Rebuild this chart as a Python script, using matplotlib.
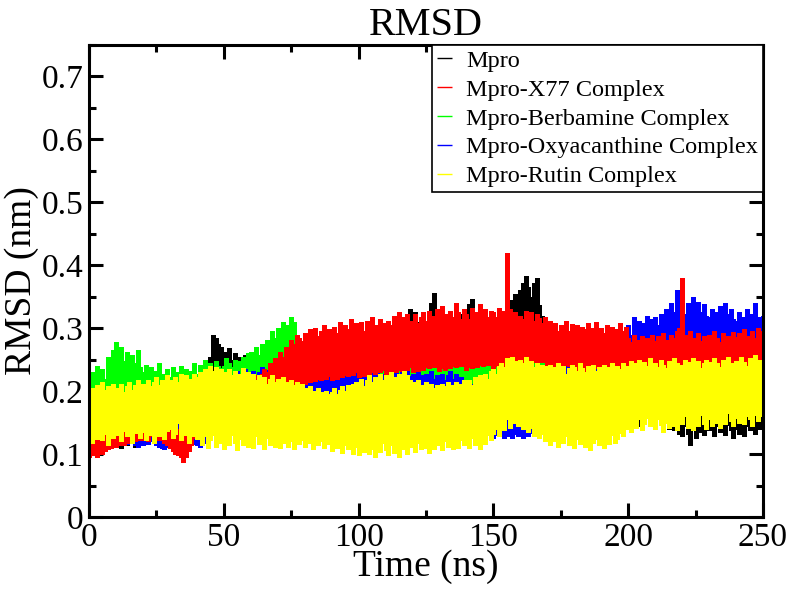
import numpy as np
import matplotlib
matplotlib.use("Agg")
import matplotlib.pyplot as plt
from matplotlib.ticker import MultipleLocator

plt.rcParams['font.family'] = ['Liberation Serif', 'DejaVu Serif']

# RMSD, in thousandths of nm.
# For every ns (0..250): lowest and highest value of the trace in that ns.
time_ns = np.arange(0, 251)

mpro_lo = [
    100, 105, 98, 110, 104, 112, 108, 115, 110, 118,
    112, 118, 110, 122, 115, 125, 118, 112, 120, 126,
    120, 128, 118, 125, 130, 122, 128, 135, 125, 130,
    128, 135, 125, 132, 138, 130, 136, 128, 135, 140,
    135, 140, 138, 145, 150, 175, 205, 215, 210, 205,
    200, 205, 195, 200, 192, 198, 190, 195, 188, 192,
    188, 192, 185, 190, 195, 188, 192, 198, 190, 195,
    192, 198, 195, 200, 198, 205, 200, 208, 205, 210,
    208, 212, 210, 215, 212, 218, 215, 220, 218, 222,
    220, 224, 218, 226, 222, 228, 225, 230, 226, 232,
    228, 232, 230, 235, 232, 238, 234, 236, 238, 240,
    236, 240, 238, 242, 240, 244, 242, 246, 244, 248,
    242, 246, 244, 248, 246, 250, 248, 255, 252, 250,
    246, 250, 248, 252, 250, 254, 252, 256, 254, 258,
    250, 254, 252, 256, 254, 258, 256, 260, 258, 262,
    255, 258, 256, 260, 258, 262, 264, 268, 270, 275,
    278, 282, 285, 280, 275, 270, 265, 260, 250, 240,
    230, 225, 222, 218, 215, 212, 210, 208, 205, 202,
    200, 198, 196, 194, 192, 190, 188, 186, 184, 182,
    180, 178, 176, 175, 174, 172, 170, 168, 166, 165,
    165, 150, 172, 158, 145, 162, 150, 168, 148, 160,
    142, 158, 148, 135, 152, 140, 156, 138, 150, 132,
    128, 145, 132, 115, 140, 125, 148, 135, 130, 142,
    138, 150, 128, 145, 135, 152, 130, 146, 138, 125,
    140, 132, 150, 128, 145, 138, 155, 132, 148, 140,
    145,
]
mpro_hi = [
    130, 138, 125, 142, 135, 128, 145, 138, 132, 150,
    148, 140, 155, 145, 150, 160, 142, 152, 158, 148,
    155, 162, 150, 168, 158, 165, 152, 170, 160, 165,
    165, 172, 160, 175, 168, 162, 178, 170, 165, 175,
    172, 168, 180, 178, 200, 255, 290, 285, 275, 270,
    262, 255, 268, 250, 260, 248, 255, 245, 258, 250,
    245, 238, 250, 242, 236, 248, 240, 252, 244, 250,
    252, 258, 250, 262, 255, 265, 258, 268, 262, 270,
    270, 265, 275, 268, 278, 272, 280, 275, 282, 278,
    282, 288, 280, 292, 285, 290, 286, 295, 288, 292,
    290, 296, 288, 300, 294, 298, 292, 302, 296, 300,
    298, 305, 300, 308, 302, 310, 304, 306, 312, 330,
    315, 325, 310, 305, 318, 312, 320, 340, 356, 322,
    310, 305, 315, 308, 318, 312, 320, 314, 322, 316,
    325, 338, 347, 320, 312, 318, 310, 322, 315, 320,
    318, 312, 320, 315, 322, 318, 330, 345, 355, 340,
    360, 372, 383, 365, 350, 372, 380, 337, 320, 305,
    295, 285, 280, 272, 268, 262, 258, 255, 250, 248,
    252, 248, 245, 250, 242, 246, 240, 244, 238, 242,
    240, 235, 238, 232, 236, 230, 234, 228, 232, 226,
    228, 222, 225, 218, 222, 215, 220, 212, 218, 210,
    212, 208, 215, 205, 210, 202, 208, 200, 206, 198,
    200, 195, 190, 185, 195, 198, 192, 200, 196, 202,
    198, 205, 195, 202, 192, 200, 190, 198, 188, 196,
    195, 200, 192, 198, 190, 196, 200, 194, 205, 198,
    200,
]

x77_lo = [
    95, 98, 100, 96, 102, 100, 105, 108, 110, 112,
    112, 115, 118, 114, 120, 118, 122, 120, 125, 122,
    122, 125, 120, 128, 124, 126, 122, 128, 118, 115,
    110, 105, 100, 98, 95, 88, 95, 105, 115, 125,
    130, 135, 138, 140, 142, 145, 148, 150, 152, 155,
    155, 158, 160, 158, 162, 165, 162, 168, 165, 170,
    168, 172, 170, 175, 172, 178, 175, 180, 182, 185,
    185, 188, 190, 195, 198, 200, 205, 208, 210, 212,
    212, 215, 214, 218, 216, 220, 218, 222, 220, 224,
    218, 222, 220, 225, 222, 226, 224, 228, 226, 230,
    222, 226, 224, 228, 226, 230, 228, 232, 230, 234,
    226, 230, 228, 232, 230, 234, 232, 236, 234, 238,
    230, 234, 232, 236, 234, 238, 236, 240, 238, 242,
    232, 236, 234, 238, 236, 240, 238, 242, 240, 244,
    234, 238, 236, 240, 238, 242, 240, 244, 242, 246,
    236, 240, 238, 242, 240, 244, 242, 246, 244, 248,
    238, 242, 240, 244, 242, 246, 244, 248, 246, 250,
    232, 236, 234, 238, 236, 240, 238, 242, 240, 244,
    228, 232, 230, 234, 232, 236, 234, 238, 236, 240,
    226, 230, 228, 232, 230, 234, 232, 236, 234, 238,
    218, 222, 215, 220, 218, 224, 216, 222, 220, 226,
    220, 218, 224, 216, 222, 220, 226, 218, 224, 222,
    218, 224, 220, 226, 222, 218, 224, 220, 226, 222,
    220, 226, 222, 218, 224, 220, 226, 222, 228, 224,
    224, 220, 226, 222, 228, 224, 220, 226, 222, 228,
    230,
]
x77_hi = [
    118, 122, 115, 125, 120, 128, 132, 135, 140, 145,
    150, 158, 148, 162, 155, 165, 152, 168, 160, 170,
    162, 172, 165, 178, 168, 175, 162, 170, 165, 158,
    150, 155, 145, 140, 148, 135, 150, 158, 168, 175,
    182, 175, 190, 185, 195, 188, 200, 192, 205, 198,
    205, 200, 210, 205, 215, 210, 220, 212, 218, 215,
    222, 218, 225, 220, 228, 235, 230, 245, 240, 252,
    250, 262, 255, 270, 265, 282, 275, 290, 285, 280,
    292, 280, 298, 285, 300, 288, 295, 305, 290, 298,
    288, 302, 292, 310, 295, 305, 298, 315, 300, 308,
    300, 310, 295, 312, 302, 318, 305, 300, 315, 308,
    298, 312, 305, 320, 308, 325, 310, 318, 322, 312,
    310, 322, 308, 318, 325, 312, 328, 315, 320, 330,
    318, 335, 322, 310, 328, 318, 340, 325, 315, 330,
    322, 315, 332, 318, 325, 338, 320, 330, 318, 328,
    325, 318, 332, 320, 328, 420, 330, 318, 325, 312,
    320, 315, 328, 318, 325, 312, 322, 316, 308, 318,
    302, 312, 298, 308, 295, 305, 300, 312, 296, 306,
    295, 305, 290, 302, 298, 308, 292, 300, 310, 296,
    300, 292, 305, 295, 302, 290, 298, 308, 295, 302,
    285, 278, 290, 275, 282, 288, 272, 284, 278, 290,
    280, 288, 276, 292, 282, 275, 290, 284, 295, 300,
    380, 290, 282, 295, 285, 278, 292, 280, 288, 282,
    290, 280, 295, 285, 278, 292, 282, 288, 276, 294,
    286, 292, 280, 298, 288, 282, 295, 285, 300, 290,
    295,
]

berb_lo = [
    140, 148, 145, 152, 150, 155, 152, 158, 155, 160,
    158, 162, 160, 165, 162, 168, 165, 162, 160, 158,
    155, 158, 152, 156, 150, 154, 148, 152, 150, 155,
    152, 156, 150, 154, 152, 158, 155, 160, 158, 162,
    160, 164, 162, 166, 164, 168, 166, 170, 168, 172,
    170, 174, 172, 176, 174, 178, 176, 180, 178, 182,
    180, 184, 182, 186, 184, 188, 186, 190, 188, 192,
    190, 194, 192, 196, 194, 198, 196, 195, 192, 188,
    175, 172, 170, 168, 166, 164, 162, 165, 163, 166,
    164, 168, 166, 170, 168, 172, 170, 168, 166, 170,
    168, 172, 170, 174, 172, 176, 174, 172, 170, 174,
    172, 176, 174, 178, 176, 180, 178, 176, 174, 178,
    176, 180, 178, 182, 180, 184, 182, 180, 178, 182,
    178, 182, 180, 184, 182, 186, 184, 182, 180, 184,
    180, 184, 182, 186, 184, 188, 186, 184, 182, 186,
    182, 186, 184, 188, 186, 190, 188, 186, 184, 188,
    180, 184, 182, 186, 184, 188, 186, 184, 182, 186,
    178, 182, 180, 184, 182, 186, 184, 182, 180, 184,
    176, 180, 178, 182, 180, 184, 182, 180, 178, 182,
    174, 178, 176, 180, 178, 182, 180, 178, 176, 180,
    165, 168, 162, 166, 160, 164, 162, 166, 164, 168,
    166, 170, 164, 168, 162, 166, 164, 168, 166, 170,
    168, 172, 166, 170, 164, 168, 166, 170, 168, 172,
    170, 174, 168, 172, 166, 170, 168, 172, 170, 174,
    172, 176, 170, 174, 168, 172, 170, 174, 172, 176,
    175,
]
berb_hi = [
    205, 230, 215, 240, 225, 235, 220, 255, 240, 265,
    278, 255, 270, 248, 262, 240, 258, 245, 265, 238,
    230, 242, 225, 238, 220, 232, 245, 228, 218, 235,
    222, 238, 215, 230, 240, 225, 235, 220, 232, 245,
    228, 242, 235, 250, 238, 245, 232, 248, 240, 236,
    240, 252, 245, 238, 250, 242, 248, 255, 244, 260,
    262, 250, 270, 258, 275, 268, 282, 272, 295, 285,
    300, 288, 310, 295, 305, 318, 310, 290, 272, 262,
    250, 242, 238, 245, 232, 240, 228, 235, 226, 232,
    235, 228, 240, 232, 238, 226, 234, 242, 230, 236,
    232, 240, 235, 245, 238, 250, 242, 236, 244, 238,
    245, 238, 250, 242, 235, 248, 240, 252, 238, 244,
    248, 242, 255, 245, 238, 252, 246, 258, 244, 250,
    252, 245, 258, 248, 262, 250, 256, 246, 260, 252,
    255, 262, 250, 258, 265, 252, 260, 248, 256, 262,
    258, 250, 262, 255, 248, 260, 252, 265, 256, 250,
    252, 260, 248, 256, 262, 250, 258, 246, 254, 260,
    250, 244, 256, 248, 240, 252, 246, 258, 242, 250,
    246, 252, 240, 250, 244, 238, 248, 242, 252, 245,
    242, 248, 238, 245, 250, 240, 246, 236, 244, 238,
    225, 232, 220, 228, 235, 222, 230, 218, 226, 234,
    228, 222, 235, 225, 230, 220, 232, 226, 238, 228,
    232, 226, 238, 228, 235, 225, 240, 230, 236, 242,
    236, 242, 230, 238, 245, 232, 240, 235, 244, 238,
    240, 235, 246, 238, 244, 250, 240, 246, 238, 248,
    245,
]

oxy_lo = [
    110, 115, 112, 118, 114, 120, 116, 122, 118, 115,
    112, 116, 114, 118, 116, 120, 118, 115, 112, 116,
    114, 118, 116, 120, 118, 115, 112, 110, 108, 112,
    110, 114, 112, 108, 106, 110, 112, 115, 118, 116,
    114, 112, 116, 118, 120, 125, 135, 145, 150, 155,
    155, 158, 156, 160, 158, 162, 160, 164, 162, 166,
    160, 164, 162, 166, 164, 168, 166, 170, 168, 172,
    165, 168, 166, 170, 168, 172, 170, 174, 172, 176,
    168, 172, 170, 174, 172, 176, 174, 178, 176, 180,
    170, 174, 172, 176, 174, 178, 176, 172, 170, 174,
    165, 168, 166, 170, 168, 172, 170, 168, 166, 170,
    166, 170, 168, 172, 170, 174, 172, 170, 168, 172,
    164, 168, 166, 170, 168, 172, 170, 168, 166, 170,
    160, 164, 162, 166, 164, 168, 166, 162, 158, 155,
    150, 146, 148, 144, 140, 138, 135, 132, 130, 128,
    126, 130, 128, 132, 125, 128, 130, 126, 132, 128,
    130, 126, 132, 128, 134, 130, 136, 132, 138, 135,
    145, 155, 160, 165, 168, 172, 170, 174, 172, 176,
    174, 178, 176, 180, 178, 182, 180, 184, 182, 186,
    180, 184, 182, 186, 184, 188, 186, 190, 195, 205,
    215, 220, 218, 222, 220, 224, 222, 226, 224, 228,
    226, 230, 228, 232, 230, 234, 232, 236, 234, 238,
    236, 240, 238, 242, 240, 244, 242, 246, 244, 248,
    240, 244, 242, 246, 244, 248, 246, 250, 248, 252,
    242, 246, 244, 248, 246, 250, 248, 252, 250, 254,
    250,
]
oxy_hi = [
    170, 182, 165, 178, 190, 172, 185, 168, 180, 175,
    185, 170, 178, 190, 175, 182, 168, 180, 172, 185,
    178, 172, 185, 175, 168, 180, 172, 165, 175, 170,
    182, 195, 170, 178, 165, 175, 168, 162, 170, 165,
    160, 158, 165, 170, 175, 195, 210, 215, 220, 225,
    230, 222, 235, 225, 218, 232, 228, 220, 235, 226,
    225, 232, 220, 230, 238, 226, 234, 222, 236, 230,
    235, 228, 240, 232, 238, 230, 242, 236, 245, 238,
    240, 232, 245, 236, 242, 250, 238, 246, 240, 235,
    238, 245, 235, 242, 248, 236, 244, 232, 240, 246,
    232, 225, 238, 228, 222, 235, 226, 230, 220, 228,
    225, 232, 220, 228, 235, 222, 230, 226, 232, 224,
    228, 222, 230, 225, 218, 228, 222, 232, 220, 226,
    222, 228, 218, 226, 232, 220, 228, 215, 222, 212,
    215, 208, 212, 205, 200, 196, 192, 188, 185, 180,
    178, 172, 176, 170, 175, 168, 174, 170, 176, 172,
    170, 176, 168, 174, 172, 178, 170, 176, 182, 190,
    200, 215, 225, 232, 238, 242, 236, 244, 240, 246,
    240, 248, 238, 245, 250, 242, 248, 236, 244, 250,
    246, 240, 250, 244, 252, 242, 248, 255, 270, 290,
    305, 290, 318, 300, 312, 295, 308, 320, 302, 315,
    318, 305, 322, 312, 330, 318, 340, 325, 360, 345,
    335, 322, 340, 328, 350, 330, 342, 325, 338, 320,
    318, 330, 312, 325, 335, 318, 340, 322, 330, 315,
    312, 325, 308, 318, 330, 315, 322, 340, 310, 318,
    320,
]

rutin_lo = [
    128, 118, 135, 124, 140, 122, 132, 115, 138, 126,
    130, 142, 120, 136, 128, 145, 118, 134, 140, 125,
    135, 122, 145, 130, 118, 138, 128, 148, 124, 136,
    140, 126, 132, 150, 122, 138, 130, 118, 142, 128,
    124, 132, 115, 128, 110, 122, 130, 112, 126, 118,
    108, 125, 114, 130, 118, 106, 124, 115, 128, 112,
    120, 110, 128, 116, 122, 108, 126, 114, 120, 112,
    124, 110, 118, 128, 112, 120, 108, 125, 116, 122,
    112, 126, 118, 108, 124, 114, 120, 110, 122, 116,
    105, 118, 110, 122, 102, 114, 108, 120, 100, 112,
    98, 110, 104, 115, 100, 108, 96, 112, 104, 118,
    106, 98, 114, 102, 110, 96, 108, 115, 100, 112,
    112, 104, 118, 108, 122, 110, 102, 116, 108, 120,
    114, 106, 120, 112, 124, 108, 118, 110, 122, 115,
    118, 110, 126, 114, 120, 108, 124, 116, 130, 122,
    132, 140, 128, 148, 138, 155, 142, 160, 150, 145,
    152, 140, 148, 135, 142, 128, 138, 125, 132, 120,
    126, 115, 130, 120, 112, 124, 118, 128, 114, 122,
    110, 124, 116, 128, 112, 120, 106, 118, 124, 114,
    122, 110, 126, 116, 130, 118, 124, 134, 128, 140,
    145, 135, 150, 142, 155, 138, 148, 158, 144, 152,
    140, 155, 146, 135, 150, 142, 158, 145, 138, 152,
    148, 160, 142, 155, 138, 150, 145, 162, 148, 140,
    155, 145, 160, 150, 142, 158, 148, 165, 152, 145,
    158, 150, 165, 148, 160, 155, 145, 162, 152, 168,
    160,
]
rutin_hi = [
    195, 205, 190, 210, 198, 215, 202, 208, 196, 212,
    205, 200, 212, 198, 208, 215, 202, 210, 218, 205,
    212, 205, 218, 208, 215, 222, 210, 218, 212, 225,
    218, 210, 222, 215, 228, 218, 225, 212, 220, 228,
    222, 230, 218, 235, 228, 240, 232, 238, 225, 235,
    230, 222, 235, 225, 232, 220, 228, 236, 224, 230,
    222, 228, 218, 225, 215, 222, 212, 220, 226, 215,
    220, 212, 222, 215, 208, 218, 210, 215, 205, 212,
    205, 198, 208, 200, 195, 205, 198, 192, 200, 195,
    198, 205, 195, 202, 208, 200, 210, 205, 212, 215,
    212, 220, 208, 218, 225, 215, 222, 212, 228, 218,
    225, 218, 230, 222, 215, 228, 220, 232, 225, 218,
    215, 208, 218, 210, 205, 215, 208, 212, 205, 210,
    205, 212, 208, 215, 202, 210, 215, 208, 212, 218,
    212, 218, 210, 222, 215, 225, 218, 228, 220, 232,
    235, 228, 240, 245, 238, 252, 245, 255, 248, 242,
    250, 245, 255, 242, 248, 238, 245, 235, 242, 240,
    235, 242, 230, 238, 245, 232, 240, 228, 236, 242,
    238, 232, 244, 236, 230, 240, 235, 242, 232, 238,
    236, 242, 230, 238, 244, 232, 240, 235, 245, 238,
    240, 248, 236, 245, 250, 238, 246, 240, 252, 244,
    245, 238, 250, 242, 236, 248, 240, 252, 244, 238,
    242, 250, 238, 246, 252, 240, 248, 236, 244, 250,
    246, 240, 252, 244, 238, 250, 242, 255, 245, 240,
    248, 242, 255, 246, 240, 252, 245, 258, 250, 248,
    250,
]

labels = ["Mpro", "Mpro-X77 Complex", "Mpro-Berbamine Complex",
          "Mpro-Oxyacanthine Complex", "Mpro-Rutin Complex"]
colors = ["#000000", "#ff0000", "#00ff00", "#0000ff", "#ffff00"]
lows = [mpro_lo, x77_lo, berb_lo, oxy_lo, rutin_lo]
highs = [mpro_hi, x77_hi, berb_hi, oxy_hi, rutin_hi]
layer = [2, 5, 3, 4, 6]   # drawing order seen in the picture

fig = plt.figure(figsize=(7.91, 5.9), dpi=100)
ax = fig.add_axes([0.1125, 0.1237, 0.8521, 0.8])

# one vertical stroke per ns, spanning the trace's range in that ns
for lab, col, lo, hi, z in zip(labels, colors, lows, highs, layer):
    ax.vlines(time_ns, np.array(lo) / 1000.0, np.array(hi) / 1000.0,
              colors=col, lw=2.3, label=lab, zorder=z, antialiased=False)

ax.set_xlim(0, 250)
ax.set_ylim(0, 0.75)
ax.xaxis.set_major_locator(MultipleLocator(50))
ax.xaxis.set_minor_locator(MultipleLocator(25))
ax.set_yticks(np.arange(0, 0.71, 0.1))
ax.set_yticklabels(["0", "0.1", "0.2", "0.3", "0.4", "0.5", "0.6", "0.7"])
ax.yaxis.set_minor_locator(MultipleLocator(0.05))
ax.tick_params(which='both', direction='in', top=True, right=True,
               labelsize=24, width=2.2, pad=4)
ax.tick_params(which='major', length=10)
ax.tick_params(which='minor', length=5)
for sp in ax.spines.values():
    sp.set_linewidth(2.2)
    sp.set_zorder(10)

ax.set_title("RMSD", fontsize=29, pad=7)
ax.set_xlabel("Time (ns)", fontsize=27, labelpad=-3)
ax.set_ylabel("RMSD (nm)", fontsize=27, labelpad=2)

leg = ax.legend(loc='upper right', fontsize=17.5, frameon=True, fancybox=False,
                edgecolor='black', framealpha=1, borderaxespad=0,
                handlelength=0.6, handletextpad=0.6, labelspacing=0.28,
                borderpad=0.2)
leg.get_frame().set_linewidth(1.2)
leg.set_zorder(20)
for h in leg.legend_handles:
    h.set_linewidth(1.0)

plt.savefig("out.png", dpi=100)
